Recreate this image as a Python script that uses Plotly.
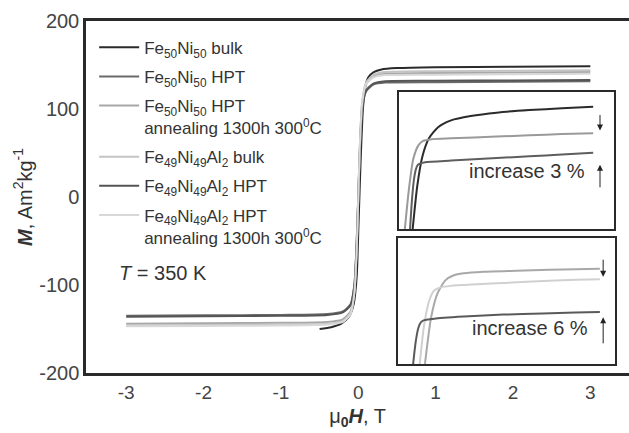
import plotly.graph_objects as go

FONT = "Liberation Sans, Arial, sans-serif"

# ---------------- main hysteresis branches ----------------
names = [
    "Fe<sub>50</sub>Ni<sub>50</sub> bulk",
    "Fe<sub>50</sub>Ni<sub>50</sub> HPT",
    "Fe<sub>50</sub>Ni<sub>50</sub> HPT<br>annealing 1300h 300<sup>0</sup>C",
    "Fe<sub>49</sub>Ni<sub>49</sub>Al<sub>2</sub> bulk",
    "Fe<sub>49</sub>Ni<sub>49</sub>Al<sub>2</sub> HPT",
    "Fe<sub>49</sub>Ni<sub>49</sub>Al<sub>2</sub> HPT<br>annealing 1300h 300<sup>0</sup>C",
]
colors = ["#2b2b2b", "#6a6a6a", "#a8a8a8", "#c4c4c4", "#555555", "#d8d8d8"]

H_bulk5050 = [-0.5, -0.35, -0.22, -0.12, -0.06, -0.02, 0.0, 0.03, 0.06, 0.09, 0.13, 0.2, 0.3, 0.5, 1, 2, 3]
M_bulk5050 = [-150, -148, -144, -136, -122, -90, -40, 40, 100, 125, 136, 142, 145, 146.5, 147.5, 148, 148.5]

H_std = [-3, -2, -1, -0.4, -0.2, -0.1, -0.05, -0.02, 0, 0.02, 0.05, 0.1, 0.2, 0.35, 1, 2, 3]
M_hpt5050 = [-135, -134.5, -134, -133, -130, -122, -100, -50, 0, 50, 100, 120, 128, 130, 130.5, 131, 131.5]
M_ann5050 = [-144, -143.5, -143, -142, -139, -130, -105, -55, 0, 55, 105, 128, 137, 140, 141, 141.5, 142]
M_bulkAl = [-146, -145.5, -145, -144, -141, -132, -108, -58, 0, 58, 108, 130, 139, 142, 143, 143.5, 144]
M_hptAl = [-136, -135.5, -135, -134, -131, -123, -100, -50, 0, 50, 100, 121, 129, 131.5, 132, 132.5, 133]
M_annAl = [-147, -146.5, -146, -145, -142, -133, -108, -58, 0, 58, 106, 128, 136, 138.5, 139, 139.5, 140]

main_H = [H_bulk5050, H_std, H_std, H_std, H_std, H_std]
main_M = [M_bulk5050, M_hpt5050, M_ann5050, M_bulkAl, M_hptAl, M_annAl]

# ---------------- inset 1 (Fe50Ni50 family) ----------------
in1_H_bulk = [0.21, 0.28, 0.36, 0.46, 0.6, 0.8, 1.1, 1.5, 2.0, 2.5, 2.98]
in1_M_bulk = [136, 141, 144.5, 146.6, 147.9, 148.7, 149.2, 149.6, 149.9, 150.1, 150.3]
in1_H_ann = [0.09, 0.15, 0.22, 0.3, 0.37, 0.5, 0.8, 1.5, 2.0, 2.5, 2.98]
in1_M_ann = [136, 140.5, 144.2, 145.8, 146.3, 146.5, 146.6, 146.8, 146.95, 147.1, 147.2]
in1_H_hpt = [0.17, 0.2, 0.23, 0.26, 0.29, 0.4, 0.8, 1.5, 2.0, 2.5, 2.98]
in1_M_hpt = [136, 139.5, 141.8, 143.0, 143.5, 143.8, 144.0, 144.3, 144.5, 144.7, 144.9]

# ---------------- inset 2 (Fe49Ni49Al2 family) ----------------
in2_H_bulk = [0.41, 0.5, 0.6, 0.72, 0.85, 1.0, 1.3, 1.8, 2.3, 2.7, 3.07]
in2_M_bulk = [125, 134, 139, 141.6, 142.6, 143.0, 143.3, 143.5, 143.7, 143.8, 143.9]
in2_H_ann = [0.33, 0.4, 0.48, 0.55, 0.65, 0.8, 1.2, 1.8, 2.3, 2.7, 3.07]
in2_M_ann = [125, 133, 137.8, 139.6, 140.2, 140.5, 140.8, 141.2, 141.5, 141.7, 141.8]
in2_H_hpt = [0.23, 0.27, 0.31, 0.35, 0.4, 0.55, 1.0, 1.6, 2.2, 2.7, 3.07]
in2_M_hpt = [125, 129.5, 132.2, 133.3, 133.7, 134.0, 134.4, 134.8, 135.0, 135.2, 135.3]

x_ticks = [-3, -2, -1, 0, 1, 2, 3]
x_ticktext = ["-3", "-2", "-1", "0", "1", "2", "3"]
y_ticks = [-200, -100, 0, 100, 200]
y_ticktext = ["-200", "-100", "0", "100", "200"]

fig = go.Figure()

for i, (n, c, hx, my) in enumerate(zip(names, colors, main_H, main_M)):
    fig.add_trace(go.Scatter(x=hx, y=my, mode="lines", name=n, legendgroup=f"g{i}",
                             line=dict(color=c, width=2, shape="spline", smoothing=0.6),
                             xaxis="x", yaxis="y"))

inset1 = [(in1_H_bulk, in1_M_bulk, "#2b2b2b"), (in1_H_ann, in1_M_ann, "#9a9a9a"), (in1_H_hpt, in1_M_hpt, "#5e5e5e")]
for hx, my, c in inset1:
    fig.add_trace(go.Scatter(x=hx, y=my, mode="lines", showlegend=False,
                             line=dict(color=c, width=2, shape="spline", smoothing=0.6),
                             xaxis="x2", yaxis="y2"))
inset2 = [(in2_H_bulk, in2_M_bulk, "#a8a8a8"), (in2_H_ann, in2_M_ann, "#d0d0d0"), (in2_H_hpt, in2_M_hpt, "#5a5a5a")]
for hx, my, c in inset2:
    fig.add_trace(go.Scatter(x=hx, y=my, mode="lines", showlegend=False,
                             line=dict(color=c, width=2, shape="spline", smoothing=0.6),
                             xaxis="x3", yaxis="y3"))

AX = "#2a2a2a"
inset_axis = dict(showline=True, mirror=True, linecolor=AX, linewidth=2,
                  showticklabels=False, ticks="", showgrid=False, zeroline=False)

fig.update_layout(
    width=629, height=433,
    margin=dict(l=86, r=0, t=21, b=60),
    paper_bgcolor="white", plot_bgcolor="white",
    font=dict(family=FONT, color="#333333", size=17),
    xaxis=dict(range=[-3.52, 3.5], showline=True, mirror=True, linecolor=AX, linewidth=2.5,
               showgrid=False, zeroline=False, ticks="", tickvals=x_ticks, ticktext=x_ticktext,
               tickfont=dict(size=19, color="#444"),
               title=dict(text="μ<sub><b>0</b></sub><b><i>H</i></b>, T", font=dict(size=20), standoff=8)),
    yaxis=dict(range=[-200, 200], showline=True, linecolor=AX, linewidth=2.5,
               showgrid=False, zeroline=False, ticks="", tickvals=y_ticks, ticktext=y_ticktext,
               tickfont=dict(size=20, color="#444"),
               title=dict(text="<b><i>M</i></b>, Am<sup>2</sup>kg<sup>-1</sup>", font=dict(size=20), standoff=2)),
    xaxis2=dict(domain=[0.5764, 0.9724], range=[0, 3.3], anchor="y2", **inset_axis),
    yaxis2=dict(domain=[0.409, 0.798], range=[136, 152], anchor="x2", **inset_axis),
    xaxis3=dict(domain=[0.5746, 0.9742], range=[0, 3.3], anchor="y3", **inset_axis),
    yaxis3=dict(domain=[0.0256, 0.3835], range=[125, 150], anchor="x3", **inset_axis),
    legend=dict(x=0.015, y=0.975, xanchor="left", yanchor="top", bgcolor="rgba(0,0,0,0)",
                font=dict(size=17, color="#333"), valign="top", itemwidth=40,
                tracegroupgap=4),
    showlegend=True,
)

annotations = [
    dict(text="<i>T</i> = 350 K", x=0.057, y=0.284, xref="paper", yref="paper",
         xanchor="left", yanchor="middle", showarrow=False, font=dict(size=20, color="#333")),
    dict(text="increase 3 %", x=1.96, y=142.8, xref="x2", yref="y2", showarrow=False,
         font=dict(size=20, color="#333")),
    dict(text="increase 6 %", x=2.0, y=132.1, xref="x3", yref="y3", showarrow=False,
         font=dict(size=20, color="#333")),
    # arrows inset 1
    dict(x=3.085, y=147.5, ax=3.085, ay=149.5, xref="x2", yref="y2", axref="x2", ayref="y2",
         showarrow=True, arrowhead=2, arrowsize=1.2, arrowwidth=1, arrowcolor="#222", text=""),
    dict(x=3.085, y=143.5, ax=3.085, ay=140.7, xref="x2", yref="y2", axref="x2", ayref="y2",
         showarrow=True, arrowhead=2, arrowsize=1.2, arrowwidth=1, arrowcolor="#222", text=""),
    # arrows inset 2
    dict(x=3.12, y=142.3, ax=3.12, ay=146.0, xref="x3", yref="y3", axref="x3", ayref="y3",
         showarrow=True, arrowhead=2, arrowsize=1.2, arrowwidth=1, arrowcolor="#222", text=""),
    dict(x=3.12, y=134.3, ax=3.12, ay=128.8, xref="x3", yref="y3", axref="x3", ayref="y3",
         showarrow=True, arrowhead=2, arrowsize=1.2, arrowwidth=1, arrowcolor="#222", text=""),
]
fig.update_layout(annotations=annotations)

fig.write_html("out.html")
